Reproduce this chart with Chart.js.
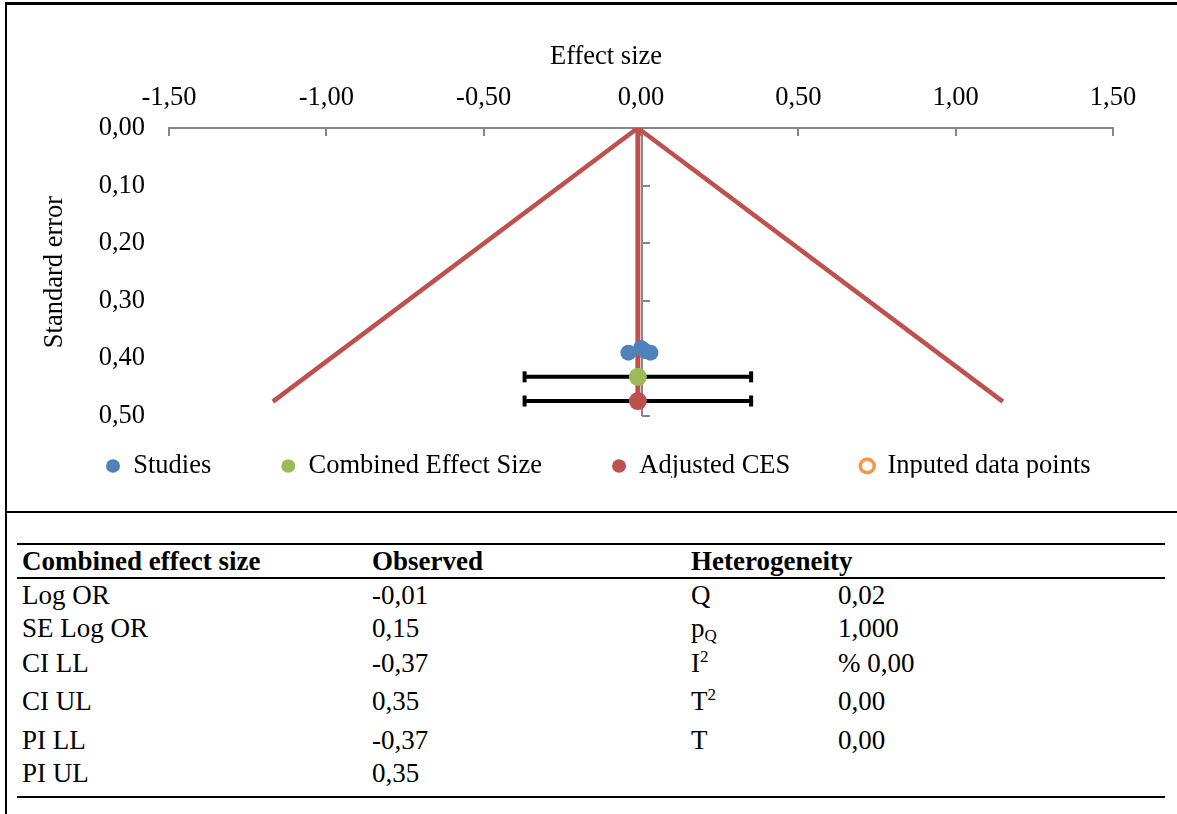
<!DOCTYPE html>
<html>
<head>
<meta charset="utf-8">
<script src="https://cdn.jsdelivr.net/npm/chart.js@4.4.0/dist/chart.umd.min.js"></script>
<style>
  html, body { margin: 0; padding: 0; background: #fff; overflow: hidden; }
  body { width: 1177px; height: 814px; position: relative; font-family: 'Liberation Serif', 'Times New Roman', serif; color: #000; }
  #frame { position: absolute; left: 5px; top: 2px; width: 1300px; height: 900px; border-left: 2px solid #000; border-top: 3px solid #000; }
  #plot { position: absolute; left: 7px; top: 5px; }
  #split { position: absolute; left: 5px; top: 511px; width: 1300px; height: 2px; background: #000; }
  #stats { position: absolute; left: 17px; top: 543px; width: 1148px; font-size: 27px; line-height: 1; }
  .rule { height: 2px; background: #000; }
  .row { display: flex; align-items: center; }
  .row div { padding-left: 5px; box-sizing: border-box; white-space: nowrap; }
  .c1 { width: 350px; } .c2 { width: 319px; } .c3 { width: 147px; } .c4 { width: 332px; }
  .head { font-weight: bold; }
  sup { font-size: 17px; vertical-align: 10px; line-height: 0; }
  sub { font-size: 17px; vertical-align: -4px; line-height: 0; }
</style>
</head>
<body>
<div id="frame"></div>
<canvas id="plot" width="1300" height="506"></canvas>
<div id="split"></div>
<div id="stats"></div>
<script>
// funnel plot values (effect size = log OR, standard error)
const studyES = [-0.04, 0.00, 0.01, 0.03];
const studySE = [0.390, 0.382, 0.386, 0.390];
const cesES = [-0.01];
const cesSE = [0.432];
const adjES = [-0.01];
const adjSE = [0.474];
const ciBounds = [-0.37, 0.35];
const funnelES = [-1.17, -0.01, 1.15];
const funnelSE = [0.475, 0, 0.475];
const midES = [-0.01, -0.01];
const midSE = [0, 0.474];
const xTicks = [-1.5, -1.0, -0.5, 0, 0.5, 1.0, 1.5];
const yTicks = [0, 0.1, 0.2, 0.3, 0.4, 0.5];
const legendNames = ['Studies', 'Combined Effect Size', 'Adjusted CES', 'Inputed data points'];

// table below the plot
const cesLabels = ['Log OR', 'SE Log OR', 'CI LL', 'CI UL', 'PI LL', 'PI UL'];
const cesObserved = ['-0,01', '0,15', '-0,37', '0,35', '-0,37', '0,35'];
const hetLabels = ['Q', 'p<sub>Q</sub>', 'I<sup>2</sup>', 'T<sup>2</sup>', 'T', ''];
const hetValues = ['0,02', '1,000', '% 0,00', '0,00', '0,00', ''];
const rowHeights = [33, 33, 37, 39, 38, 28];

const pts = (xs, ys) => xs.map((v, i) => ({ x: v, y: ys[i] }));
const fmt = v => Number(v).toFixed(2).replace('.', ',');

const FONT = "'Liberation Serif', 'Times New Roman', serif";
const FS = 26.5;
const LEG_PAD = 70;
Chart.defaults.font.family = FONT;
Chart.defaults.font.size = FS;
Chart.defaults.color = '#000';

const axisDecor = {
  id: 'axisDecor',
  afterLayout(chart) {
    // place the legend row just under the plot, starting near the left edge
    const lg = chart.legend;
    const shift = (461 - LEG_PAD - FS / 2) - lg.top;
    lg.top += shift;
    lg.bottom += shift;
    lg.left = 99 - LEG_PAD;
  },
  beforeDatasetsDraw(chart) {
    const { ctx, chartArea, scales: { x, y } } = chart;
    ctx.save();
    ctx.strokeStyle = '#868686';
    ctx.lineWidth = 2;
    ctx.beginPath();
    x.ticks.forEach(t => {
      const px = Math.round(x.getPixelForValue(t.value));
      ctx.moveTo(px, chartArea.top);
      ctx.lineTo(px, chartArea.top + 8);
    });
    const x0 = Math.round(x.getPixelForValue(0)) + 1;
    ctx.moveTo(x0, chartArea.top);
    ctx.lineTo(x0, chartArea.bottom);
    y.ticks.forEach(t => {
      const py = Math.round(y.getPixelForValue(t.value));
      ctx.moveTo(x0, py);
      ctx.lineTo(x0 + 8, py);
    });
    ctx.stroke();
    ctx.restore();
  },
  afterDraw(chart) {
    const ctx = chart.ctx;
    ctx.save();
    ctx.font = FS + 'px ' + FONT;
    ctx.fillStyle = '#000';
    ctx.textAlign = 'center';
    ctx.textBaseline = 'middle';
    ctx.fillText('Effect size', 599, 52);
    ctx.restore();
  }
};

new Chart(document.getElementById('plot'), {
  type: 'scatter',
  data: {
    datasets: [
      { label: 'Studies', data: pts(studyES, studySE), backgroundColor: '#4F81BD', borderColor: '#4F81BD', borderWidth: 0, pointRadius: 8, pointStyle: 'circle' },
      { label: 'Combined Effect Size', data: pts(cesES, cesSE), backgroundColor: '#9BBB59', borderColor: '#9BBB59', borderWidth: 0, pointRadius: 9, pointStyle: 'circle' },
      { label: 'Adjusted CES', data: pts(adjES, adjSE), backgroundColor: '#C0504D', borderColor: '#C0504D', borderWidth: 0, pointRadius: 9, pointStyle: 'circle' },
      { label: 'Inputed data points', data: [], backgroundColor: '#fff', borderColor: '#F79646', borderWidth: 3.5, pointRadius: 7, pointStyle: 'circle' },
      { label: 'CI CES', data: pts(ciBounds, [cesSE[0], cesSE[0]]), showLine: true, borderColor: '#000', borderWidth: 4, pointStyle: 'line', pointRotation: 90, pointRadius: 5.5, pointBorderWidth: 4, pointBorderColor: '#000' },
      { label: 'CI Adj', data: pts(ciBounds, [adjSE[0], adjSE[0]]), showLine: true, borderColor: '#000', borderWidth: 4, pointStyle: 'line', pointRotation: 90, pointRadius: 5.5, pointBorderWidth: 4, pointBorderColor: '#000' },
      { label: 'Mid', data: pts(midES, midSE), showLine: true, borderColor: '#C0504D', borderWidth: 5, pointRadius: 0 },
      { label: 'Funnel', data: pts(funnelES, funnelSE), showLine: true, borderColor: '#C0504D', borderWidth: 4.5, pointRadius: 0 }
    ]
  },
  options: {
    responsive: false,
    animation: false,
    events: [],
    layout: { padding: 0 },
    plugins: {
      tooltip: { enabled: false },
      legend: {
        position: 'bottom',
        align: 'start',
        maxHeight: 95,
        labels: {
          usePointStyle: true,
          boxHeight: 9.5,
          pointStyleWidth: 14,
          padding: LEG_PAD,
          color: '#000',
          font: { size: FS },
          filter: item => legendNames.includes(item.text)
        }
      }
    },
    scales: {
      x: {
        type: 'linear',
        position: 'top',
        min: -1.5,
        max: 1.5,
        afterBuildTicks: s => { s.ticks = xTicks.map(v => ({ value: v })); },
        afterFit: s => { s.height = 123; },
        ticks: { padding: 14, callback: fmt },
        grid: { display: false, drawTicks: false },
        border: { color: '#868686', width: 2 }
      },
      y: {
        type: 'linear',
        position: 'left',
        reverse: true,
        min: 0,
        max: 0.5,
        afterBuildTicks: s => { s.ticks = yTicks.map(v => ({ value: v })); },
        afterFit: s => { s.width = 162; },
        ticks: { padding: 24, callback: fmt },
        grid: { display: false, drawTicks: false },
        border: { display: false },
        title: { display: true, text: 'Standard error', padding: { top: 32, bottom: 0 } }
      },
      yPad: {
        type: 'linear',
        position: 'right',
        ticks: { display: false },
        grid: { display: false, drawTicks: false },
        border: { display: false },
        afterFit: s => { s.width = 194; }
      }
    }
  },
  plugins: [axisDecor]
});

// statistics table
const stats = document.getElementById('stats');
let html = '<div class="rule"></div>';
html += '<div class="row head" style="height:32px"><div class="c1">Combined effect size</div><div class="c2">Observed</div><div class="c3">Heterogeneity</div><div class="c4"></div></div>';
html += '<div class="rule"></div>';
cesLabels.forEach((lab, i) => {
  html += '<div class="row" style="height:' + rowHeights[i] + 'px"><div class="c1">' + lab + '</div><div class="c2">' + cesObserved[i] +
    '</div><div class="c3">' + hetLabels[i] + '</div><div class="c4">' + hetValues[i] + '</div></div>';
});
html += '<div style="height:9px"></div><div class="rule"></div>';
stats.innerHTML = html;
</script>
</body>
</html>
